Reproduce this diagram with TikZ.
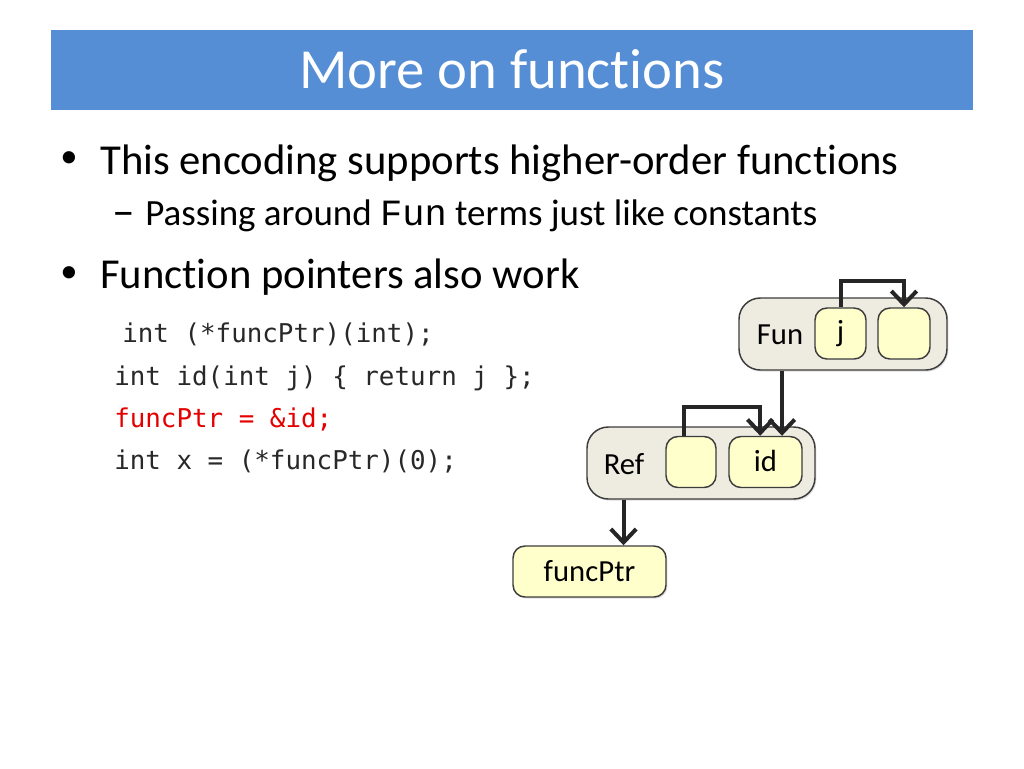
\documentclass[tikz,border=0pt]{standalone}
\usepackage{fontspec}
\setmainfont{Carlito}[Ligatures={NoCommon,NoContextual}]
\newfontfamily\codefont{DejaVu Sans Mono}
\newfontfamily\courfont{Liberation Mono}
\usetikzlibrary{arrows.meta,shadows}
\definecolor{titleblue}{RGB}{85,142,213}
\definecolor{contfill}{RGB}{238,236,225}
\definecolor{boxfill}{RGB}{255,255,204}
\definecolor{edge}{RGB}{60,60,60}
\definecolor{arrowc}{RGB}{38,38,38}
\definecolor{codegray}{RGB}{40,40,40}
\tikzset{
  container/.style={draw=edge, line width=1.1pt, fill=contfill, rounded corners=16pt,
    inner sep=0pt, minimum height=54pt,
    drop shadow={shadow xshift=1pt, shadow yshift=-1.2pt, opacity=0.25}},
  cell/.style={draw=edge, line width=1.1pt, fill=boxfill, rounded corners=9pt,
    inner sep=0pt, minimum height=38.25pt, font=\fontsize{23}{26}\selectfont},
  lbl/.style={inner sep=0pt, font=\fontsize{23}{26}\selectfont},
  arr/.style={draw=arrowc, line width=3pt, -{Straight Barb[length=10pt,width=19pt]}},
  bul/.style={anchor=base west, inner sep=0pt, font=\fontsize{32}{38}\selectfont},
  dotb/.style={anchor=base, inner sep=0pt, font=\fontsize{26}{30}\selectfont},
  sub/.style={anchor=base west, inner sep=0pt, font=\fontsize{27.75}{32}\selectfont},
  code/.style={anchor=base west, inner sep=0pt, text=codegray, font=\codefont\fontsize{19.4}{22}\selectfont},
}
\begin{document}
\begin{tikzpicture}[x=0.75pt,y=-0.75pt]
\useasboundingbox (0,0) rectangle (1024,768);
\fill[white] (0,0) rectangle (1024,768);
% title bar
\node[fill=titleblue, minimum width=691.5pt, minimum height=60pt, inner sep=0pt] (bar) at (512,70) {};
\node[anchor=base, inner sep=0pt, text=white, font=\fontsize{42.5}{48}\selectfont] (title) at (512,88) {More on functions};
% bullets
\node[dotb] (b1dot) at (69,167) {•};
\node[bul] (b1) at (100,174) {This encoding supports higher-order functions};
\node[sub, anchor=base, font=\fontsize{34}{36}\selectfont] (s1dash) at (124,226) {–};
\node[sub] (s1) at (145,225) {Passing around {\courfont Fun} terms just like constants};
\node[dotb] (b2dot) at (69,282) {•};
\node[bul] (b2) at (100,288) {Function pointers also work};
% code
\node[code] (c1) at (122,342) {int (*funcPtr)(int);};
\node[code] (c2) at (114,385) {int id(int j) \{ return j \};};
\node[code, text=red!90!black] (c3) at (114,427) {funcPtr = \&id;};
\node[code] (c4) at (114,469) {int x = (*funcPtr)(0);};
% diagram
\node[container, minimum width=156pt] (fun) at (843,334) {};
\node[lbl] (funl) at (780,335) {Fun};
\node[cell, minimum width=38.25pt] (j) at (840.5,333.5) {j};
\node[cell, minimum width=39pt] (b2box) at (904,333.5) {};
\node[container, minimum width=171pt] (ref) at (701,463) {};
\node[lbl] (refl) at (624,464) {Ref};
\node[cell, minimum width=37.5pt] (rb) at (691,462) {};
\node[cell, minimum width=54.75pt] (id) at (765.5,462) {\raisebox{2pt}{id}};
\node[cell, minimum width=114.75pt, drop shadow={shadow xshift=1pt, shadow yshift=-1.2pt, opacity=0.25}] (fp) at (589.5,571.5) {funcPtr};
% arrows
\draw[arr] (j.north) -- ++(0,-26) -| (b2box.north);
\draw[arr] ([xshift=12.4pt]id.north |- fun.south) -- ([xshift=12.4pt]id.north);
\draw[arr] ([xshift=-5pt]rb.north) -- ++(0,-29) -| ([xshift=-4pt]id.north);
\draw[arr] ([xshift=25.5pt]fp.north |- ref.south) -- ([xshift=25.5pt]fp.north);
\end{tikzpicture}
\end{document}
